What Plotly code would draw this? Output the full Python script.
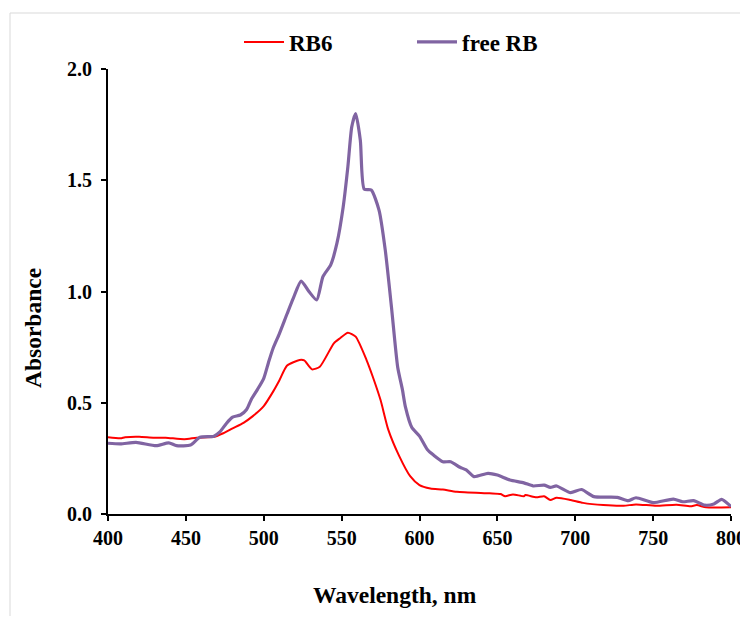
import plotly.graph_objects as go

# Free RB spectrum
wl_free = [400, 408, 418, 431, 439, 444, 453, 459, 468, 472, 476, 480, 485, 489, 492, 496, 500,
           503, 506, 510, 515, 519, 524, 529, 534, 538, 543, 547, 551, 554, 556.5, 559, 562, 564.5,
           569, 574, 578, 582, 586, 589, 591, 595, 600, 605, 609, 615, 620, 626, 630, 635, 644, 650,
           658, 667, 673, 680, 684, 688, 697, 704, 712, 727, 734, 739, 750, 763, 769, 776, 783, 789,
           794, 799, 800]
abs_free = [0.318, 0.315, 0.322, 0.307, 0.32, 0.307, 0.31, 0.345, 0.35, 0.37, 0.407, 0.435, 0.445,
            0.47, 0.515, 0.56, 0.61, 0.68, 0.745, 0.81, 0.90, 0.97, 1.047, 1.0, 0.962, 1.067, 1.12,
            1.217, 1.38, 1.56, 1.74, 1.80, 1.68, 1.46, 1.456, 1.366, 1.187, 0.93, 0.66, 0.56, 0.48,
            0.39, 0.35, 0.29, 0.265, 0.235, 0.235, 0.21, 0.198, 0.168, 0.183, 0.175, 0.153, 0.14,
            0.126, 0.13, 0.12, 0.126, 0.096, 0.11, 0.078, 0.075, 0.06, 0.073, 0.051, 0.067, 0.055,
            0.06, 0.04, 0.045, 0.066, 0.04, 0.033]

# RB6 spectrum
wl_rb6 = [400, 408, 411, 420, 429, 437, 449, 457, 468, 474, 480, 487, 493, 500, 506, 510, 515, 523,
          526, 531, 536, 545, 549, 554, 559, 566, 570, 575, 580, 587, 594, 600, 607, 615, 624, 645,
          652, 655, 660, 667, 668, 675, 680, 684, 688, 697, 705, 718, 731, 739, 752, 765, 774, 778,
          784, 800]
abs_rb6 = [0.345, 0.34, 0.345, 0.347, 0.343, 0.343, 0.336, 0.343, 0.347, 0.363, 0.385, 0.41, 0.44,
           0.485, 0.55, 0.60, 0.667, 0.692, 0.69, 0.65, 0.662, 0.767, 0.79, 0.815, 0.797, 0.692,
           0.617, 0.512, 0.378, 0.26, 0.17, 0.13, 0.115, 0.11, 0.10, 0.093, 0.09, 0.08, 0.088, 0.08,
           0.085, 0.075, 0.08, 0.063, 0.073, 0.063, 0.05, 0.04, 0.037, 0.043, 0.037, 0.042, 0.035,
           0.04, 0.03, 0.03]

x_ticks = [400, 450, 500, 550, 600, 650, 700, 750, 800]
y_ticks = [0.0, 0.5, 1.0, 1.5, 2.0]

FONT = "Liberation Serif"

# figure sits inside the page body (8px default margin); keep it from overflowing
W, H = 740, 608
L, R, T, B = 100, 17, 61, 102
pw, ph = W - L - R, H - T - B


def px2paper(px, py):
    return (px - L) / pw, (H - B - py) / ph


fig = go.Figure()
fig.add_trace(go.Scatter(x=wl_rb6, y=abs_rb6, mode="lines", name="RB6",
                         line=dict(color="#FF0000", width=2, shape="spline", smoothing=0.6)))
fig.add_trace(go.Scatter(x=wl_free, y=abs_free, mode="lines", name="free RB",
                         line=dict(color="#8064A2", width=3.2, shape="spline", smoothing=0.6)))

x0, y0 = px2paper(2, 5)
x1, y1 = px2paper(780, 660)
fig.add_shape(type="rect", xref="paper", yref="paper", x0=x0, y0=y1, x1=x1, y1=y0,
              line=dict(color="#D9D9D9", width=1), layer="below")

ax_title_font = dict(family=FONT, size=23.5, color="black", weight="bold")
tx, ty = px2paper(25, 320)
fig.add_annotation(text="Absorbance", xref="paper", yref="paper", x=tx, y=ty,
                   xanchor="center", yanchor="middle", textangle=-90, showarrow=False,
                   font=ax_title_font)
tx, ty = px2paper(387, 587)
fig.add_annotation(text="Wavelength, nm", xref="paper", yref="paper", x=tx, y=ty,
                   xanchor="center", yanchor="middle", showarrow=False,
                   font=ax_title_font)

lx, ly = px2paper(231, 34)
fig.update_layout(
    width=W, height=H,
    margin=dict(l=L, r=R, t=T, b=B, autoexpand=False),
    paper_bgcolor="white", plot_bgcolor="white",
    font=dict(family=FONT, color="black", size=20),
    showlegend=True,
    legend=dict(orientation="h", x=lx, xanchor="left", y=ly, yanchor="middle",
                font=dict(family=FONT, size=23, color="black", weight="bold"),
                itemwidth=40, entrywidthmode="pixels", entrywidth=118),
    xaxis=dict(range=[400, 800], tickvals=x_ticks, ticktext=[str(v) for v in x_ticks],
               showgrid=False, zeroline=False, showline=True, linecolor="black", linewidth=2,
               ticks="outside", ticklen=5, tickwidth=2, tickcolor="black",
               tickfont=dict(family=FONT, size=20, color="black", weight="bold")),
    yaxis=dict(range=[0, 2.0], tickvals=y_ticks, ticktext=[f"{v:.1f}" for v in y_ticks],
               showgrid=False, zeroline=False, showline=True, linecolor="black", linewidth=2,
               ticks="outside", ticklen=5, tickwidth=2, tickcolor="black", ticklabelstandoff=5,
               tickfont=dict(family=FONT, size=20, color="black", weight="bold")),
)

fig.write_html("out.html")
